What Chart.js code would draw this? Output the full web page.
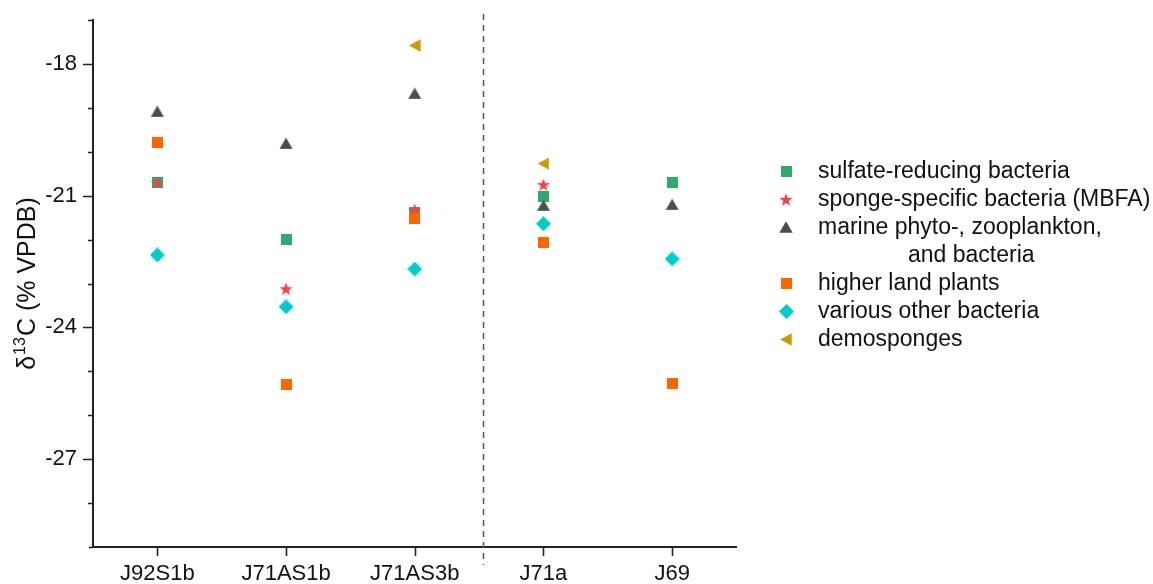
<!DOCTYPE html>
<html>
<head>
<meta charset="utf-8">
<script src="https://cdn.jsdelivr.net/npm/chart.js@4/dist/chart.umd.min.js"></script>
<style>
  html, body { margin: 0; padding: 0; background: #ffffff; }
  #wrap { width: 1153px; height: 584px; position: relative; }
</style>
</head>
<body>
<div id="wrap"><canvas id="chart" width="1153" height="584"></canvas></div>
<script>
// Sample sites on the x axis
const categories = ['J92S1b', 'J71AS1b', 'J71AS3b', 'J71a', 'J69'];

// δ13C values (‰ VPDB) per biomarker source group
const sulfateReducing  = [-20.70, -22.00, -21.39, -21.02, -20.71];
const spongeSpecific   = [-20.70, -23.12, -21.32, -20.75, null];
const marinePlankton   = [-19.08, -19.81, -18.67, -21.22, -21.20];
const higherLandPlants = [-19.80, -25.31, -21.52, -22.06, -25.28];
const otherBacteria    = [-22.35, -23.53, -22.67, -21.64, -22.44];
const demosponges      = [null, null, -17.58, -20.27, null];

// Labelled y values and axis range
const yTickLabels = [-18, -21, -24, -27];
const yMin = -29, yMax = -17;

const FONT = '"Liberation Sans", Arial, Helvetica, sans-serif';

// Marker glyphs rendered into small canvases so the plot and legend share them
function marker(shape, color) {
  const sizes = { square: [11, 11], diamond: [15, 15], triangle: [14, 12], left: [12, 13], star: [14, 13] };
  const [w, h] = sizes[shape];
  const c = document.createElement('canvas');
  c.width = w; c.height = h;
  const g = c.getContext('2d');
  g.fillStyle = color;
  g.beginPath();
  if (shape === 'square') {
    g.rect(0, 0, w, h);
  } else if (shape === 'diamond') {
    g.moveTo(w / 2, 0); g.lineTo(w, h / 2); g.lineTo(w / 2, h); g.lineTo(0, h / 2);
  } else if (shape === 'triangle') {
    g.moveTo(w / 2, 0.3); g.lineTo(w - 0.3, h - 0.3); g.lineTo(0.3, h - 0.3);
  } else if (shape === 'left') {
    g.moveTo(0.3, h / 2); g.lineTo(w - 0.3, 0.3); g.lineTo(w - 0.3, h - 0.3);
  } else if (shape === 'star') {
    const cx = w / 2, cy = h / 2 + 0.6, R = 6.9, r = 2.8;
    for (let i = 0; i < 10; i++) {
      const a = -Math.PI / 2 + i * Math.PI / 5;
      const rr = i % 2 === 0 ? R : r;
      const px = cx + rr * Math.cos(a), py = cy + rr * Math.sin(a);
      if (i === 0) g.moveTo(px, py); else g.lineTo(px, py);
    }
  }
  g.closePath();
  g.fill();
  return c;
}

const series = [
  { label: ['sulfate-reducing bacteria'], data: sulfateReducing, color: '#2EAA6A', shape: 'square' },
  { label: ['sponge-specific bacteria (MBFA)'], data: spongeSpecific, color: '#F04448', shape: 'star' },
  { label: ['marine phyto-, zooplankton,', 'and bacteria'], data: marinePlankton, color: '#4D4D4D', shape: 'triangle' },
  { label: ['higher land plants'], data: higherLandPlants, color: '#FF6600', shape: 'square' },
  { label: ['various other bacteria'], data: otherBacteria, color: '#00CCCC', shape: 'diamond' },
  { label: ['demosponges'], data: demosponges, color: '#CC9900', shape: 'left' }
];
series.forEach(s => { s.img = marker(s.shape, s.color); });

// Axis ticks (major every 3, minor every 1), dashed separator and y title
const decorations = {
  id: 'decorations',
  afterDraw(chart) {
    const { ctx, chartArea: a } = chart;
    const x = chart.scales.x, y = chart.scales.y;
    ctx.save();
    ctx.strokeStyle = '#222';
    ctx.lineWidth = 1.6;
    ctx.beginPath();
    for (let v = yMin + 1; v <= yMax; v++) {
      const py = Math.round(y.getPixelForValue(v)) + 0.5;
      const len = yTickLabels.includes(v) ? 10 : 5;
      ctx.moveTo(a.left - len, py); ctx.lineTo(a.left, py);
    }
    categories.forEach((c, i) => {
      const px = Math.round(x.getPixelForValue(i)) + 0.5;
      ctx.moveTo(px, a.bottom); ctx.lineTo(px, a.bottom + 9);
    });
    ctx.moveTo(a.left - 4, a.bottom + 0.5); ctx.lineTo(a.left, a.bottom + 0.5);
    ctx.stroke();

    // separator between the two sample groups
    const sx = Math.round(x.getPixelForValue(2.53)) + 0.5;
    ctx.strokeStyle = '#555';
    ctx.lineWidth = 1.5;
    ctx.setLineDash([6, 5]);
    ctx.beginPath();
    ctx.moveTo(sx, a.top - 6); ctx.lineTo(sx, a.bottom + 18);
    ctx.stroke();
    ctx.setLineDash([]);

    // y axis title: δ13C (% VPDB) with superscript
    const cy = (a.top + a.bottom) / 2;
    ctx.translate(35, cy);
    ctx.rotate(-Math.PI / 2);
    ctx.fillStyle = '#111';
    ctx.textBaseline = 'alphabetic';
    const big = '25px ' + FONT, small = '16px ' + FONT;
    ctx.font = big; const w1 = ctx.measureText('δ').width;
    ctx.font = small; const w2 = ctx.measureText('13').width;
    ctx.font = big; const w3 = ctx.measureText('C (% VPDB)').width;
    let tx = -(w1 + w2 + w3 + 2) / 2;
    ctx.font = big; ctx.fillText('δ', tx, 0); tx += w1 + 1;
    ctx.font = small; ctx.fillText('13', tx, -10); tx += w2 + 1;
    ctx.font = big; ctx.fillText('C (% VPDB)', tx, 0);
    ctx.restore();
  }
};

// Legend on the right side
const sideLegend = {
  id: 'sideLegend',
  afterDraw(chart) {
    const { ctx } = chart;
    const markerX = 786, textX = 818, step = 28;
    let rowY = 171;
    ctx.save();
    ctx.font = '23px ' + FONT;
    ctx.fillStyle = '#111';
    ctx.textBaseline = 'alphabetic';
    ctx.textAlign = 'left';
    series.forEach(s => {
      ctx.drawImage(s.img, Math.round(markerX - s.img.width / 2), Math.round(rowY - s.img.height / 2));
      s.label.forEach((line, k) => {
        ctx.fillText(line, textX + (k > 0 ? 90 : 0), rowY + 7 + k * step);
      });
      rowY += step * s.label.length;
    });
    ctx.restore();
  }
};

new Chart(document.getElementById('chart'), {
  type: 'line',
  data: {
    labels: categories,
    datasets: series.map((s, i) => ({
      label: s.label.join(' '),
      data: s.data,
      showLine: false,
      pointStyle: s.img,
      pointRadius: 7,
      pointHoverRadius: 7,
      backgroundColor: s.color,
      borderColor: s.color,
      order: series.length - i
    }))
  },
  options: {
    responsive: false,
    animation: false,
    events: [],
    layout: { padding: { top: 20, right: 416.5, left: 0, bottom: 0 } },
    plugins: { legend: { display: false }, tooltip: { enabled: false } },
    scales: {
      x: {
        type: 'category',
        offset: true,
        grid: { display: false, drawTicks: false },
        border: { display: true, color: '#222', width: 2 },
        ticks: { color: '#111', font: { family: FONT, size: 22 }, padding: 14, maxRotation: 0, autoSkip: false },
        afterFit(scale) { scale.height = 37; scale.paddingLeft = 0; scale.paddingRight = 0; }
      },
      y: {
        min: yMin,
        max: yMax,
        grid: { display: false, drawTicks: false },
        border: { display: true, color: '#222', width: 2 },
        ticks: {
          stepSize: 1,
          color: '#111',
          font: { family: FONT, size: 22 },
          padding: 16,
          autoSkip: false,
          callback: v => (yTickLabels.includes(v) ? String(v) : '')
        },
        afterFit(scale) { scale.width = 93; scale.paddingTop = 0; scale.paddingBottom = 0; }
      }
    }
  },
  plugins: [decorations, sideLegend]
});
</script>
</body>
</html>
